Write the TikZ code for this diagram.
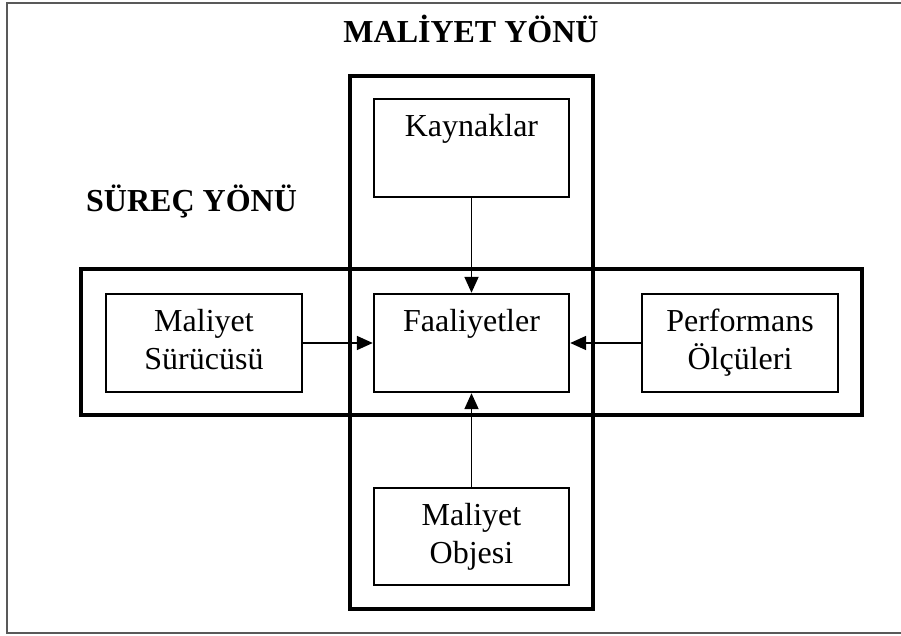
\documentclass[tikz,border=0pt]{standalone}
\usepackage{fontspec}
\setmainfont{Liberation Serif}
\usetikzlibrary{arrows.meta}
\newcommand\bxs{\rule[-6.5pt]{0pt}{28pt}}
\tikzset{
  frameline/.style={draw=black!65, line width=2pt},
  bigbox/.style={draw, line width=4pt, inner sep=0pt, minimum width=#1},
  itembox/.style={draw, line width=2.4pt, inner sep=0pt, minimum width=195pt, minimum height=98pt,
    align=center, font=\fontsize{32}{38}\selectfont},
  title/.style={font=\fontsize{32}{38}\selectfont\bfseries, inner sep=0pt},
  flow/.style={line width=1.8pt, -{Triangle[length=16pt,width=14pt]}}
}
\begin{document}
\begin{tikzpicture}[x=1pt,y=-1pt]
\useasboundingbox (0,0) rectangle (901,636);
\coordinate (fa) at (906,3);
\coordinate (fb) at (7,3);
\coordinate (fc) at (7,633);
\coordinate (fd) at (906,633);
\draw[frameline] (fa) -- (fb) -- (fc) -- (fd);

\node[bigbox=243pt, minimum height=533pt] (vert) at (471.5,342.5) {};
\node[bigbox=781pt, minimum height=146pt] (horz) at (471.5,342) {};

\node[title, anchor=base] (t1) at (471,43) {MALİYET YÖNÜ};
\node[title, anchor=base west] (t2) at (86,212) {SÜREÇ YÖNÜ};

\node[itembox] (kay) at (471.5,148) {\bxs Kaynaklar\\\bxs};
\node[itembox] (faa) at (471.5,343) {\bxs Faaliyetler\\\bxs};
\node[itembox, minimum width=196pt] (ms) at (204,343) {\bxs Maliyet\\\bxs Sürücüsü};
\node[itembox, minimum width=196pt] (perf) at (740,343) {\bxs Performans\\\bxs Ölçüleri};
\node[itembox, minimum height=97pt] (mo) at (471.5,536.5) {\bxs Maliyet\\\bxs Objesi};

\draw[flow] (kay.south) -- (faa.north);
\draw[flow] (ms.east) -- (faa.west);
\draw[flow] (perf.west) -- (faa.east);
\draw[flow] (mo.north) -- (faa.south);
\end{tikzpicture}
\end{document}
